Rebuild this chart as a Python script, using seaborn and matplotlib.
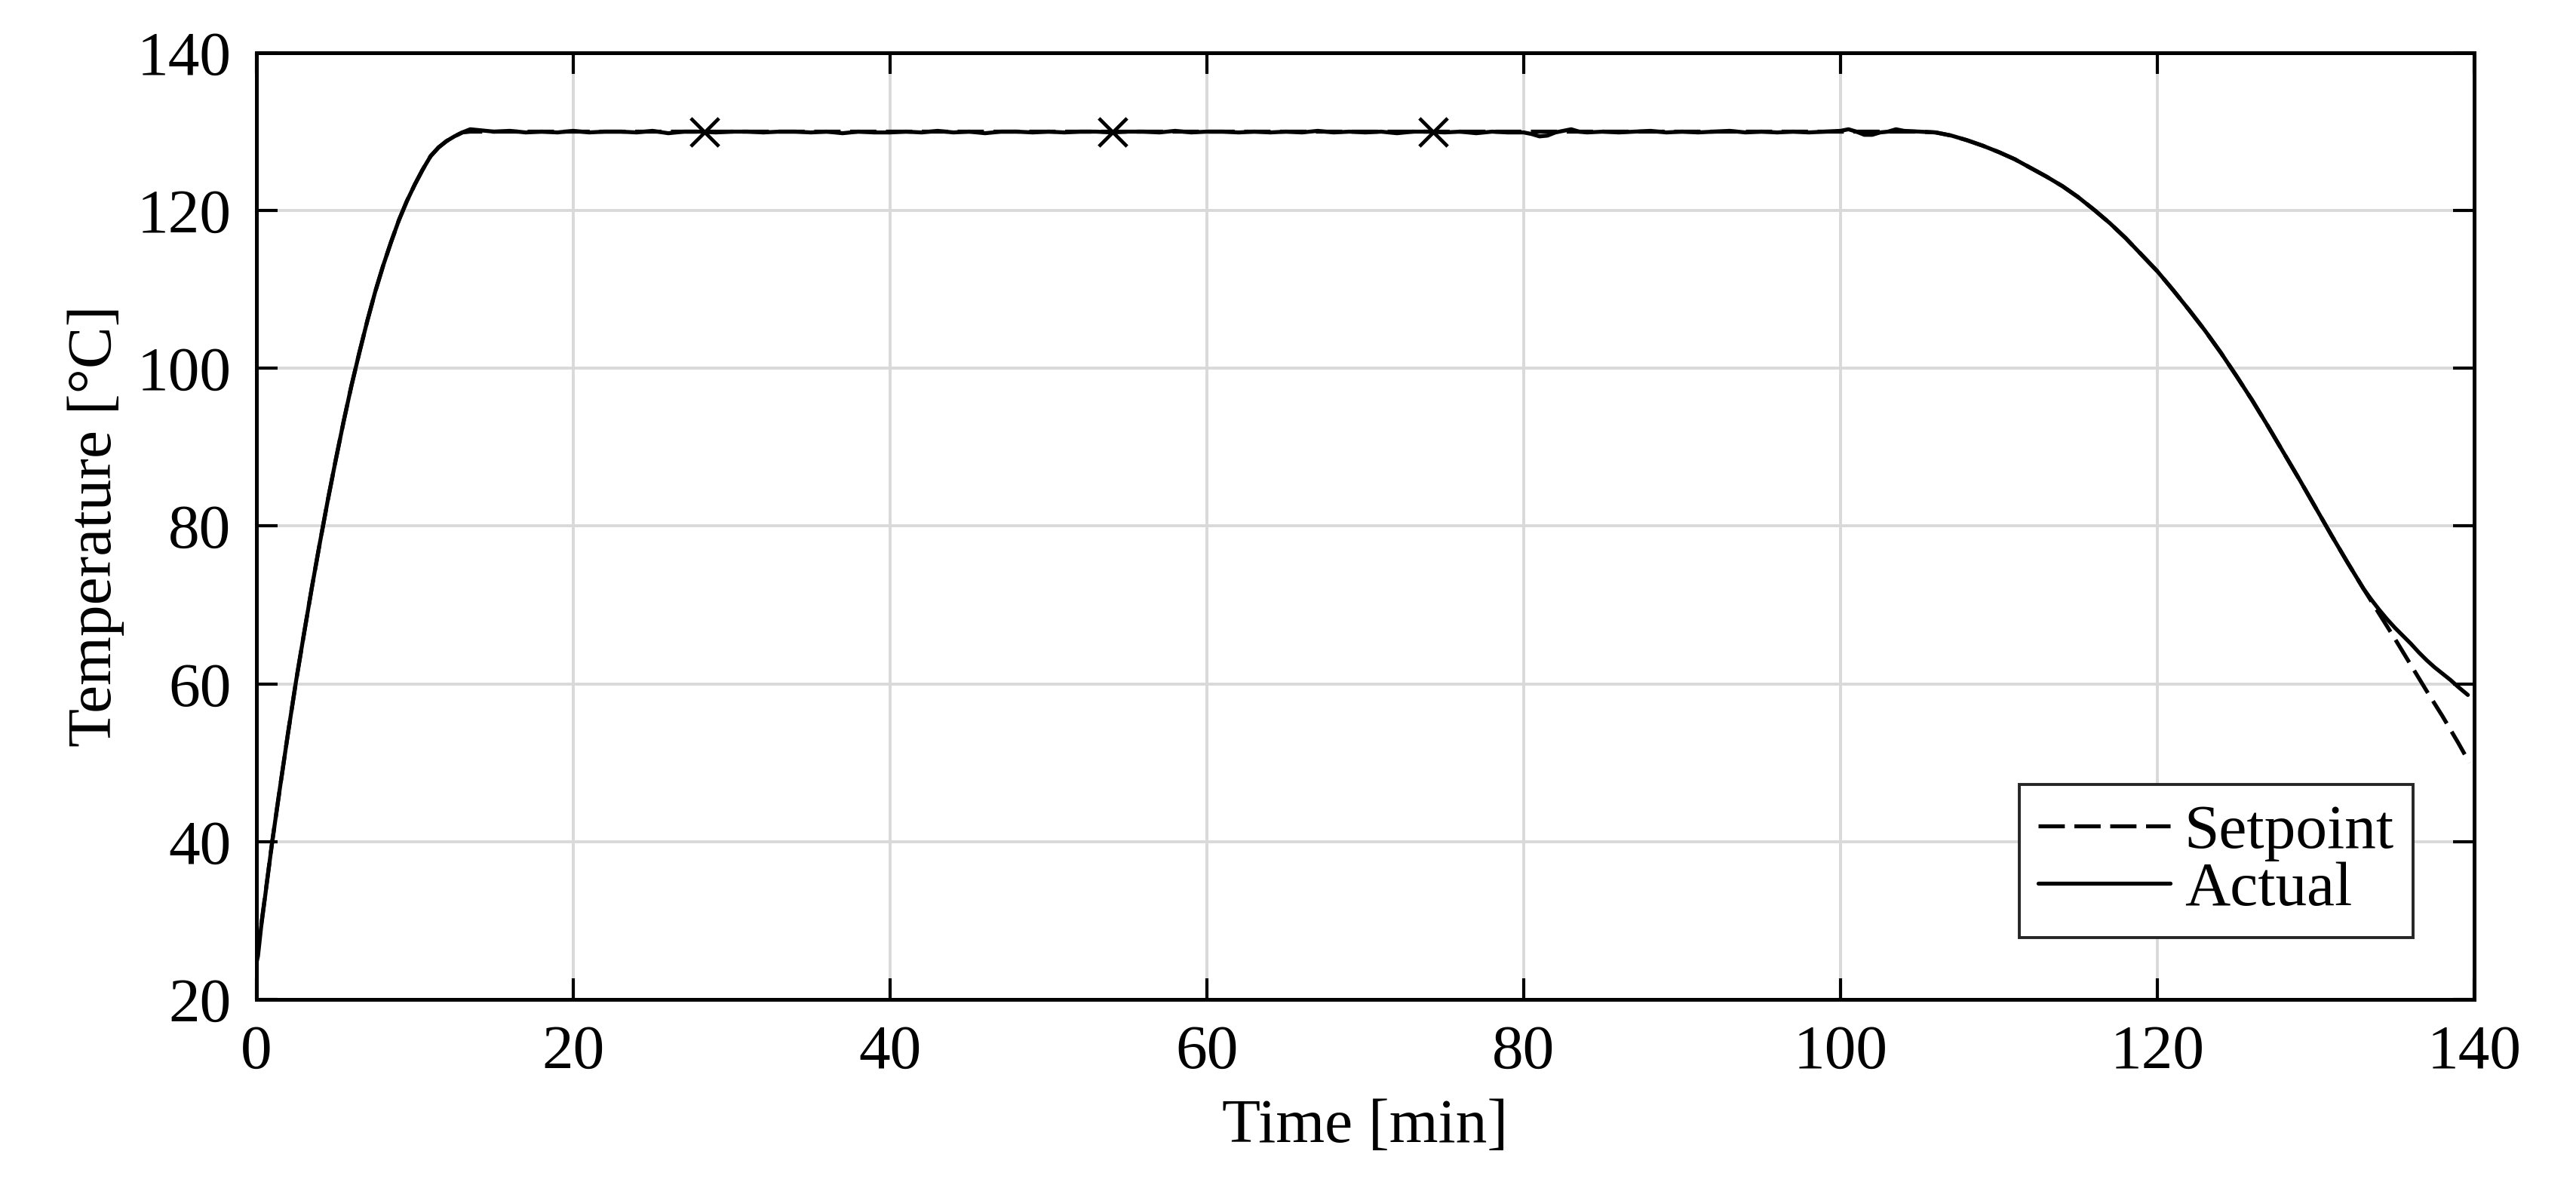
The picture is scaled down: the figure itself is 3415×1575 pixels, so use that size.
import matplotlib
matplotlib.use("Agg")
import matplotlib.pyplot as plt
import seaborn as sns

# Estilo
sns.set_style("ticks")
plt.rcParams['font.family'] = ['Liberation Serif', 'DejaVu Serif']
plt.rcParams['text.color'] = 'black'
plt.rcParams['axes.labelcolor'] = 'black'
plt.rcParams['xtick.color'] = 'black'
plt.rcParams['ytick.color'] = 'black'

# Dados
# Setpoint
sp_time = [0, 0.5, 1.0, 1.5, 2.0, 2.5, 3.0, 3.5, 4.0, 4.5, 5.0, 5.5, 6.0, 6.5, 7.0, 7.5,
           8.0, 8.5, 9.0, 9.5, 10.0, 10.5, 11.0, 11.5, 12.0, 12.5, 13.0, 13.5, 14.0,
           105, 106, 107, 108, 109, 110, 111, 112, 113, 114, 115, 116, 117, 118, 119,
           120, 121, 122, 123, 124, 125, 126, 127, 128, 129, 130, 131, 132, 133, 134,
           135, 136, 137, 138, 139, 139.7]
sp_temp = [25.0, 32.4, 40.0, 47.0, 53.8, 60.3, 66.3, 72.2, 77.8, 83.2, 88.3, 93.2, 97.8,
           102.0, 106.0, 109.7, 113.0, 116.0, 118.8, 121.2, 123.3, 125.2, 126.9, 128.0,
           128.8, 129.4, 129.9, 130.0, 130.0,
           130.0, 129.9, 129.5, 128.9, 128.2, 127.4, 126.5, 125.4, 124.3, 123.1, 121.7,
           120.1, 118.4, 116.5, 114.4, 112.3, 109.9, 107.4, 104.8, 102.0, 99.0, 95.9,
           92.6, 89.2, 85.8, 82.3, 78.8, 75.4, 72.1, 68.9, 65.7, 62.4, 59.1, 55.9, 52.5,
           50.0]

# Valor real
act_time = [0, 0.1, 0.3, 0.5, 1.0, 1.5, 2.0, 2.5, 3.0, 3.5, 4.0, 4.5, 5.0, 5.5, 6.0, 6.5,
            7.0, 7.5, 8.0, 8.5, 9.0, 9.5, 10.0, 10.5, 11.0, 11.5, 12.0, 12.5, 13.0, 13.5,
            14, 15, 16, 17, 18, 19, 20, 21, 22, 23, 24, 25, 26, 27, 28, 29, 30, 31, 32,
            33, 34, 35, 36, 37, 38, 39, 40, 41, 42, 43, 44, 45, 46, 47, 48, 49, 50, 51,
            52, 53, 54, 55, 56, 57, 58, 59, 60, 61, 62, 63, 64, 65, 66, 67, 68, 69, 70,
            71, 72, 73, 74, 75, 76, 77, 78, 79, 80, 80.5, 81, 81.5, 82, 82.5, 83, 83.5,
            84, 85, 86, 87, 88, 89, 90, 91, 92, 93, 94, 95, 96, 97, 98, 99, 100, 100.5,
            101, 101.5, 102, 102.5, 103, 103.5, 104, 105, 106, 107, 108, 109, 110, 111,
            112, 113, 114, 115, 116, 117, 118, 119, 120, 121, 122, 123, 124, 125, 126,
            127, 128, 129, 130, 131, 132, 133, 133.5, 134, 134.5, 135, 135.5, 136, 136.5,
            137, 137.5, 138, 138.5, 139, 139.3, 139.6]
act_temp = [24.6, 25.5, 29.2, 32.3, 40.0, 47.0, 53.8, 60.3, 66.3, 72.2, 77.8, 83.2, 88.3,
            93.2, 97.8, 102.0, 106.0, 109.7, 113.0, 116.0, 118.8, 121.2, 123.3, 125.2,
            126.9, 128.0, 128.8, 129.4, 129.9, 130.3,
            130.2, 130.0, 130.1, 129.9, 130.0, 129.9, 130.1, 129.9, 130.0, 130.0, 129.9,
            130.1, 129.8, 130.0, 130.0, 129.9, 130.0, 130.0, 129.9, 130.0, 130.0, 129.9,
            130.0, 129.8, 130.0, 129.9, 129.9, 130.0, 129.9, 130.1, 129.9, 130.0, 129.8,
            130.0, 130.0, 129.9, 130.0, 129.9, 130.0, 130.0, 129.9, 130.0, 130.0, 129.9,
            130.1, 129.9, 130.0, 130.0, 129.9, 130.0, 129.9, 130.0, 129.9, 130.1, 129.9,
            130.0, 129.9, 130.0, 129.8, 130.0, 130.0, 129.9, 130.0, 129.8, 130.0, 129.9,
            129.9, 129.7, 129.4, 129.5, 129.9, 130.1, 130.3, 130.0,
            129.9, 130.0, 129.9, 130.0, 130.1, 129.9, 130.0, 129.9, 130.0, 130.1, 129.9,
            130.0, 129.9, 130.0, 129.9, 130.0, 130.1, 130.3,
            130.0, 129.6, 129.6, 129.9, 130.0, 130.3, 130.1, 130.0, 129.9, 129.5, 128.9,
            128.2, 127.4, 126.5, 125.4, 124.3, 123.1, 121.7, 120.1, 118.4, 116.5, 114.4,
            112.3, 109.9, 107.4, 104.8, 102.0, 99.0, 95.9, 92.6, 89.2, 85.8, 82.3, 78.8,
            75.4, 72.1, 70.7, 69.4, 68.2, 67.1, 66.1, 65.1, 64.0, 63.0, 62.1, 61.3, 60.5,
            59.6, 59.1, 58.6]

# Marcadores (x)
mark_time = [28.3, 54.05, 74.3]
mark_temp = [130, 130, 130]

x_ticks = [0, 20, 40, 60, 80, 100, 120, 140]
y_ticks = [20, 40, 60, 80, 100, 120, 140]

fs = 30

fig, ax = plt.subplots(figsize=(17.08, 7.875), dpi=200)
fig.subplots_adjust(left=0.0995, right=0.9602, top=0.9556, bottom=0.1587)

sns.lineplot(x=sp_time, y=sp_temp, ax=ax, color='black', linewidth=1.9,
             linestyle='--', label='Setpoint')
sns.lineplot(x=act_time, y=act_temp, ax=ax, color='black', linewidth=1.9,
             label='Actual')
sns.scatterplot(x=mark_time, y=mark_temp, ax=ax, marker='x', s=180,
                color='black', linewidth=1.7, zorder=5)

sp_line, act_line = ax.lines[0], ax.lines[1]
sp_line.set_dashes([6.6, 2.4])

ax.set_xlim(0, 140)
ax.set_ylim(20, 140)
ax.set_xticks(x_ticks)
ax.set_yticks(y_ticks)
ax.grid(True, color='#d9d9d9', linewidth=1.4)
ax.set_axisbelow(True)

for s in ax.spines.values():
    s.set_linewidth(1.8)
    s.set_color('black')
ax.tick_params(direction='in', length=10, width=1.5, top=True, right=True,
               labelsize=fs, pad=12, color='black', labelcolor='black')

ax.set_xlabel('Time [min]', fontsize=fs, labelpad=8)
ax.set_ylabel('Temperature [°C]', fontsize=fs, labelpad=6)

leg = ax.legend(handles=[sp_line, act_line], labels=['Setpoint', 'Actual'],
                loc='lower right', bbox_to_anchor=(0.9724, 0.0653), borderaxespad=0,
                fontsize=fs, fancybox=False, framealpha=1, edgecolor='#262626',
                handlelength=2.1, handletextpad=0.23, labelspacing=0.0,
                borderpad=0.3)
leg.get_frame().set_linewidth(1.4)

fig.savefig('out.png', dpi=200)
